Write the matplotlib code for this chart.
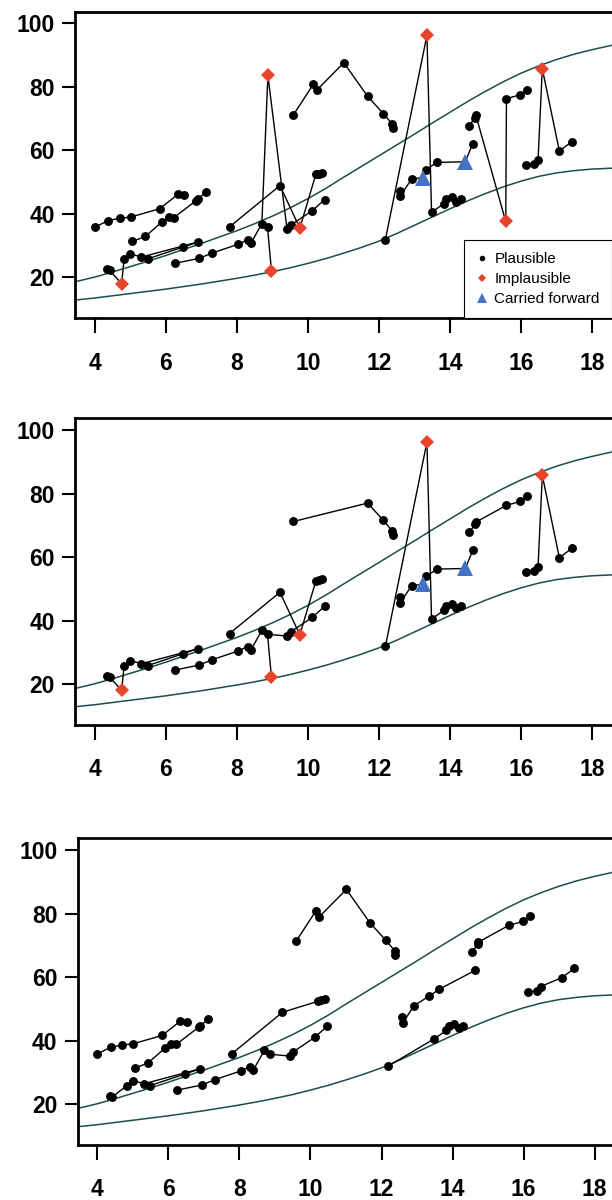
import matplotlib
matplotlib.use("Agg")
import matplotlib.pyplot as plt
from matplotlib import font_manager
from matplotlib.lines import Line2D

# ---------------- reference curves ----------------
curve_age = [3.4, 4.0, 4.5, 5.0, 5.5, 6.0, 6.5, 7.0, 7.5, 8.0, 8.5, 9.0, 9.5, 10.0,
             10.5, 11.0, 11.5, 12.0, 12.5, 13.0, 13.5, 14.0, 14.5, 15.0, 15.5, 16.0,
             16.5, 17.0, 17.5, 18.0, 18.6]
upper_curve = [18.5, 20.1, 21.7, 23.4, 25.1, 26.9, 28.8, 30.7, 32.7, 34.7, 36.9, 39.3,
               41.9, 44.8, 48.0, 51.5, 54.9, 58.3, 61.7, 65.1, 68.6, 72.0, 75.4, 78.6,
               81.6, 84.3, 86.6, 88.6, 90.3, 91.7, 93.2]
lower_curve = [12.8, 13.5, 14.2, 14.9, 15.6, 16.3, 17.1, 17.9, 18.8, 19.7, 20.7, 21.8,
               23.0, 24.4, 25.9, 27.6, 29.4, 31.4, 33.8, 36.4, 39.0, 41.6, 44.1, 46.4,
               48.5, 50.3, 51.8, 52.9, 53.6, 54.1, 54.4]

# ---------------- individual trajectories ----------------
# flag: P = plausible, I = implausible, C = carried forward
A_age = [4.00, 4.37, 4.70, 5.01, 5.82, 6.33, 6.51]
A_wt = [35.8, 37.9, 38.6, 39.0, 41.6, 46.1, 45.8]
A_flag = ["P", "P", "P", "P", "P", "P", "P"]

B_age = [5.05, 5.42, 5.89, 6.08, 6.22, 6.85, 6.90, 7.12]
B_wt = [31.3, 32.9, 37.5, 38.9, 38.8, 44.2, 44.6, 46.8]
B_flag = ["P", "P", "P", "P", "P", "P", "P", "P"]

C_age = [4.35, 4.41, 4.75, 4.82, 5.00, 5.31, 5.48, 6.47, 6.89]
C_wt = [22.6, 22.2, 18.0, 25.7, 27.4, 26.4, 25.8, 29.5, 31.1]
C_flag = ["P", "P", "I", "P", "P", "P", "P", "P", "P"]

D_age = [6.25, 6.94, 7.31, 8.03, 8.30, 8.39, 8.70, 8.86, 8.87, 8.97, 9.41, 9.52, 10.12, 10.47]
D_wt = [24.4, 26.0, 27.7, 30.4, 31.8, 30.7, 36.9, 35.7, 83.6, 22.1, 35.1, 36.5, 41.0, 44.5]
D_flag = ["P", "P", "P", "P", "P", "P", "P", "P", "I", "I", "P", "P", "P", "P"]

E_age = [7.79, 9.21, 9.77, 10.22, 10.30, 10.40]
E_wt = [35.9, 48.9, 35.5, 52.4, 52.7, 53.0]
E_flag = ["P", "P", "I", "P", "P", "P"]

F_age = [9.59, 10.15, 10.24, 11.01, 11.68, 12.12, 12.37, 12.39]
F_wt = [71.2, 80.8, 78.9, 87.6, 77.0, 71.6, 68.3, 67.1]
F_flag = ["P", "P", "P", "P", "P", "P", "P", "P"]

G_age = [12.18, 13.35, 13.48, 13.83, 13.89, 14.05, 14.18, 14.30]
G_wt = [31.9, 96.2, 40.5, 43.2, 44.7, 45.3, 43.8, 44.6]
G_flag = ["P", "I", "P", "P", "P", "P", "P", "P"]

H_age = [12.59, 12.60, 12.92, 13.23, 13.33, 13.63, 14.43, 14.64]
H_wt = [47.3, 45.6, 51.0, 51.4, 53.9, 56.2, 56.4, 62.1]
H_flag = ["P", "P", "P", "C", "P", "P", "C", "P"]

I_age = [14.54, 14.71, 14.73, 15.57, 15.59, 15.98, 16.17]
I_wt = [67.8, 70.3, 71.0, 37.6, 76.3, 77.5, 79.1]
I_flag = ["P", "P", "P", "I", "P", "P", "P"]

J_age = [16.13, 16.37, 16.48, 16.60, 17.08, 17.43]
J_wt = [55.3, 55.6, 57.0, 85.7, 59.8, 62.7]
J_flag = ["P", "P", "P", "I", "P", "P"]

x_ticks = [4, 6, 8, 10, 12, 14, 16, 18]
y_ticks = [20, 40, 60, 80, 100]
legend_labels = ["Plausible", "Implausible", "Carried forward"]

tracks = {
    "A": (A_age, A_wt, A_flag), "B": (B_age, B_wt, B_flag), "C": (C_age, C_wt, C_flag),
    "D": (D_age, D_wt, D_flag), "E": (E_age, E_wt, E_flag), "F": (F_age, F_wt, F_flag),
    "G": (G_age, G_wt, G_flag), "H": (H_age, H_wt, H_flag), "I": (I_age, I_wt, I_flag),
    "J": (J_age, J_wt, J_flag),
}

def allidx(name):
    return list(range(len(tracks[name][0])))

# connection order of points in each panel
panel1_paths = [("A", allidx("A")), ("B", allidx("B")), ("C", allidx("C")), ("C", [5, 8]),
                ("D", [0, 1, 2, 3, 4, 5, 6, 8, 10, 11, 12, 13]), ("D", [6, 7, 9]),
                ("E", allidx("E")), ("F", allidx("F")), ("G", allidx("G")),
                ("H", allidx("H")), ("I", allidx("I")), ("J", allidx("J"))]
panel2_paths = [("C", allidx("C")), ("C", [5, 8]),
                ("D", [0, 1, 2, 3, 4, 5, 6, 7, 10, 11, 12, 13]), ("D", [7, 9]),
                ("E", allidx("E")), ("F", [0, 4, 5, 6, 7]), ("G", allidx("G")),
                ("H", allidx("H")), ("I", [0, 1, 2, 4, 5, 6]), ("J", allidx("J"))]
panel3_paths = [("A", allidx("A")), ("B", allidx("B")), ("C", [0, 1, 3, 4, 5, 6, 7, 8]),
                ("C", [5, 8]), ("D", [0, 1, 2, 3, 4, 5, 6, 7, 10, 11, 12, 13]),
                ("E", [0, 1, 3, 4, 5]), ("F", allidx("F")), ("G", [0, 2, 3, 4, 5, 6, 7]),
                ("H", [0, 1, 2, 4, 5, 7]), ("I", [0, 1, 2, 4, 5, 6]), ("J", [0, 1, 2, 4, 5])]

# ---------------- styling ----------------
CURVE_COLOR = "#1d4d4b"
RED = "#e8432d"
BLUE = "#4472c4"

names = {f.name for f in font_manager.fontManager.ttflist}
if "Liberation Sans Narrow" in names:
    tick_font = dict(family="Liberation Sans Narrow", weight="bold")
else:
    tick_font = dict(family="Liberation Sans", weight="bold", stretch="condensed")
legend_font = "Liberation Sans"

fig = plt.figure(figsize=(6.12, 12.0), dpi=100)
W, H = 612.0, 1200.0

XLIM = (3.437, 18.563)
YLIM = (7.1, 103.7)
ax_w = 537.0
ax_h = 306.7
panel_geom = [(75.0, 318.3), (75.0, 725.0), (77.5, 1145.0)]  # left px, bottom px


def draw_panel(ax, paths):
    ax.plot(curve_age, upper_curve, color=CURVE_COLOR, lw=1.1, zorder=1)
    ax.plot(curve_age, lower_curve, color=CURVE_COLOR, lw=1.1, zorder=1)
    used = {}
    for name, idx in paths:
        ages, wts, _ = tracks[name]
        ax.plot([ages[i] for i in idx], [wts[i] for i in idx], color="black",
                lw=1.0, zorder=2, solid_joinstyle="round")
        used.setdefault(name, set()).update(idx)
    for name, idxs in used.items():
        ages, wts, flags = tracks[name]
        for i in sorted(idxs):
            if flags[i] == "P":
                ax.plot(ages[i], wts[i], "o", color="black", ms=6.4, mew=0, zorder=3)
            elif flags[i] == "I":
                ax.plot(ages[i], wts[i], "D", color=RED, ms=7.6, mew=0, zorder=4)
            else:
                ax.plot(ages[i], wts[i], "^", color=BLUE, ms=11.0, mew=0, zorder=4)

    ax.set_xlim(*XLIM)
    ax.set_ylim(*YLIM)
    ax.set_xticks(x_ticks)
    ax.set_yticks(y_ticks)
    ax.set_xticklabels([str(t) for t in x_ticks], **tick_font, fontsize=16.5)
    ax.set_yticklabels([str(t) for t in y_ticks], **tick_font, fontsize=16.5)
    ax.tick_params(axis="x", length=10.5, width=1.5, pad=13.5, direction="out")
    ax.tick_params(axis="y", length=9.5, width=1.5, pad=5, direction="out")
    for side in ("left", "bottom", "top"):
        ax.spines[side].set_linewidth(2.0)
    ax.spines["right"].set_visible(False)


for k, paths in enumerate([panel1_paths, panel2_paths, panel3_paths]):
    left_px, bottom_px = panel_geom[k]
    ax = fig.add_axes([left_px / W, (H - bottom_px) / H, ax_w / W, ax_h / H])
    draw_panel(ax, paths)
    if k == 0:
        handles = [
            Line2D([], [], ls="none", marker="o", color="black", ms=4.0, mew=0),
            Line2D([], [], ls="none", marker="D", color=RED, ms=4.0, mew=0),
            Line2D([], [], ls="none", marker="^", color=BLUE, ms=6.5, mew=0),
        ]
        leg = ax.legend(handles, legend_labels, loc="lower right", bbox_to_anchor=(1.0, 0.0),
                        borderaxespad=0.0, fancybox=False, framealpha=1.0, edgecolor="black",
                        prop={"family": legend_font, "size": 11}, handlelength=0.75,
                        handletextpad=0.42, borderpad=0.8, labelspacing=0.38)
        leg.get_frame().set_linewidth(0.8)

fig.savefig("out.png", dpi=100)
